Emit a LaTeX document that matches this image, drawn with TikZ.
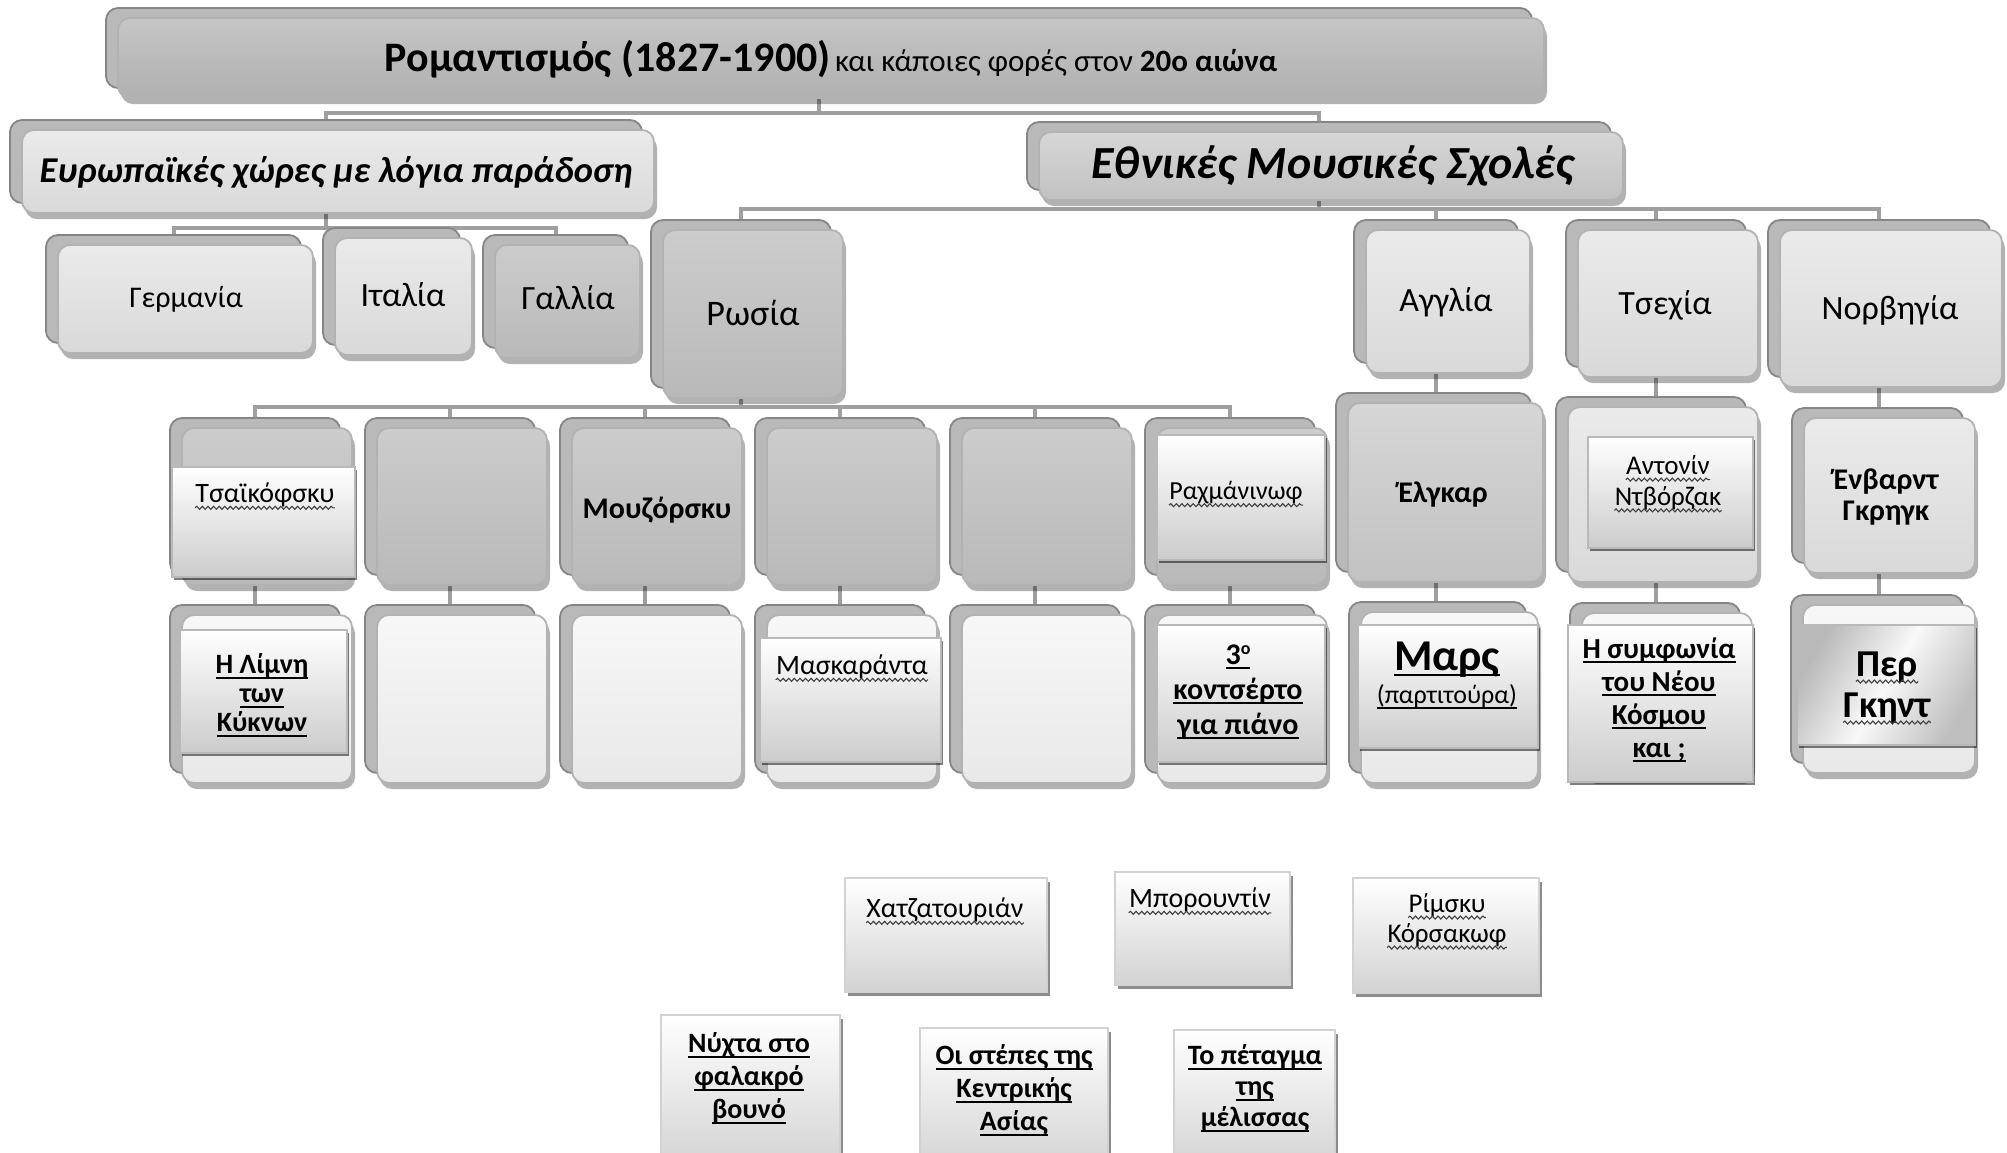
\documentclass[tikz,border=0pt]{standalone}
\usepackage{fontspec}
\setmainfont{Carlito}
\usetikzlibrary{shadows,decorations.pathmorphing}
\pgfdeclarelayer{bg}
\pgfsetlayers{bg,main}
\newcommand\ulx[1]{\setbox0\hbox{#1}\rlap{\rule[-2.6pt]{\wd0}{1pt}}\box0}
\newcommand\bx[6]{%
  \pgfmathsetmacro\bxw{(#5-#3)*0.5}%
  \pgfmathsetmacro\bxh{(#6-#4)*0.5}%
  \node[#1, minimum width=\bxw pt, minimum height=\bxh pt, inner sep=0pt] (#2) at ({(#3+#5)/2},{(#4+#6)/2}) {};%
  \coordinate (#2-c) at ([xshift=-6pt]#2.center);}
\newcommand\wnode[5]{%
  \node[txt, #1] (#2) at (#3,#4) {#5};%
  \draw[wvl] ([yshift=-2.6pt]#2.base west) -- ([yshift=-2.6pt]#2.base east);}
\tikzset{
  conn/.style={draw=gray!75, line width=2pt},
  wvl/.style={decorate, decoration={snake, amplitude=0.75pt, segment length=2.8pt}, draw=black!75, line width=0.55pt},
  box3d/.style={rectangle, rounded corners=#1, draw=gray!60, line width=0.9pt,
     drop shadow={shadow xshift=1.5pt, shadow yshift=-3pt, opacity=0.3, fill=black},
     copy shadow={shadow xshift=-6pt, shadow yshift=5pt, fill=gray!55, draw=gray!95, line width=0.9pt}},
  box3d/.default=6pt,
  tp/.style={box3d, top color=gray!45, bottom color=gray!62},
  dk/.style={box3d, top color=gray!40, bottom color=gray!55},
  md/.style={box3d, top color=gray!32, bottom color=gray!48},
  lt/.style={box3d, top color=gray!16, bottom color=gray!30},
  vl/.style={box3d, top color=gray!6, bottom color=gray!18},
  ins/.style={rectangle, draw=gray!55, line width=0.6pt, top color=white, bottom color=gray!40,
     drop shadow={shadow xshift=1pt, shadow yshift=-1.5pt, opacity=.5, fill=black}},
  insd/.style={rectangle, draw=gray!55, line width=0.6pt, left color=gray!55, right color=gray!50, middle color=gray!5, shading angle=60,
     drop shadow={shadow xshift=1pt, shadow yshift=-1.5pt, opacity=.5, fill=black}},
  flat/.style={rectangle, draw=gray!35, line width=0.6pt, top color=white, bottom color=gray!35,
     drop shadow={shadow xshift=1.5pt, shadow yshift=-2pt, opacity=.45, fill=black}},
  txt/.style={inner sep=0pt, align=center, text=black},
  fr/.style 2 args={font=\fontsize{#1}{#2}\selectfont},
  fb/.style 2 args={font=\fontsize{#1}{#2}\selectfont\bfseries},
}
\begin{document}
\begin{tikzpicture}[x=0.5pt, y=-0.5pt]
\useasboundingbox (0,0) rectangle (2007,1152);
\clip (0,0) rectangle (2007,1152);
\begin{pgfonlayer}{bg}
\fill[white] (0,0) rectangle (2007,1152);
\end{pgfonlayer}

% level 1 and 2
\bx{tp}{top}{118}{18}{1544}{98}
\bx{lt}{eu}{22}{130}{654}{213}
\bx{md}{eth}{1039}{132}{1623}{200}

% countries
\bx{lt}{ger}{58}{245}{313}{353}
\bx{lt}{ita}{335}{238}{472}{355}
\bx{dk}{gal}{495}{245}{640}{358}
\bx{dk}{rus}{663}{230}{843}{398}
\bx{lt}{agg}{1366}{230}{1530}{373}
\bx{lt}{tse}{1578}{230}{1758}{377}
\bx{lt}{nor}{1780}{230}{2002}{387}

% russian composers (row 3) and works (row 4)
\foreach \k in {0,...,5}{
  \pgfmathsetmacro\xa{182+195*\k}
  \pgfmathsetmacro\xb{\xa+170}
  \bx{dk}{ra\k}{\xa}{428}{\xb}{585}
  \bx{vl}{rb\k}{\xa}{615}{\xb}{783}
}
\bx{ins}{ra0in}{172}{467}{355}{577}
\bx{ins}{ra5in}{1157}{435}{1325}{560}
\bx{ins}{rb0in}{180}{630}{347}{753}
\bx{ins}{rb3in}{760}{638}{941}{762}
\bx{ins}{rb5in}{1157}{625}{1325}{762}

% other composers
\bx{md}{elg}{1348}{403}{1543}{582}
\bx{lt}{dvo}{1568}{407}{1758}{582}
\bx{lt}{gri}{1804}{418}{1975}{573}
\bx{ins}{dvoin}{1588}{437}{1753}{548}
\bx{vl}{mar}{1361}{612}{1538}{783}
\bx{vl}{sym}{1582}{613}{1752}{778}
\bx{vl}{peer}{1803}{605}{1975}{773}
\bx{ins}{marin}{1358}{625}{1538}{748}
\bx{ins}{symin}{1568}{625}{1753}{782}
\bx{insd}{peerin}{1797}{625}{1975}{745}

% floating boxes
\bx{flat}{xat}{845}{878}{1047}{992}
\bx{flat}{bor}{1115}{872}{1290}{985}
\bx{flat}{rim}{1353}{878}{1539}{993}
\bx{flat}{nyx}{661}{1015}{840}{1170}
\bx{flat}{ste}{920}{1028}{1108}{1170}
\bx{flat}{pet}{1174}{1030}{1335}{1170}

% texts
\node[txt] (t-top) at (831,59) {{\fontsize{21}{24}\selectfont\bfseries Ρομαντισμός (1827-1900)} {\fontsize{15.5}{18}\selectfont και κάποιες φορές στον \textbf{20ο αιώνα}}};
\node[txt, font=\fontsize{18.2}{21}\selectfont\bfseries\itshape] (t-eu) at (336,173) {Ευρωπαϊκές χώρες με λόγια παράδοση};
\node[txt, font=\fontsize{23}{26}\selectfont\bfseries\itshape] (t-eth) at (1333,166) {Εθνικές Μουσικές Σχολές};
\node[txt, fr={15}{18}] (t-ger) at (186,299) {Γερμανία};
\node[txt, fr={17}{20}] (t-ita) at (403,295) {Ιταλία};
\node[txt, fr={17}{20}] (t-gal) at (568,298) {Γαλλία};
\node[txt, fr={18}{21}] (t-rus) at (753,313) {Ρωσία};
\node[txt, fr={17}{20}] (t-agg) at (1446,302) {Αγγλία};
\node[txt, fr={17}{20}] (t-tse) at (1665,305) {Τσεχία};
\node[txt, fr={17}{20}] (t-nor) at (1890,310) {Νορβηγία};

\wnode{fr={14}{16}}{t-tsa}{265}{495}{Τσαϊκόφσκυ}
\node[txt, fb={15}{17}] (t-mou) at (657,510) {Μουζόρσκυ};
\wnode{fr={13}{15}}{t-rax}{1236}{493}{Ραχμάνινωφ}
\node[txt, fb={14}{14.5}] (t-lim) at (262,695) {\ulx{Η Λίμνη}\\\ulx{των}\\\ulx{Κύκνων}};
\wnode{fr={14}{16}}{t-mas}{852}{667}{Μασκαράντα}
\node[txt, fb={15}{17.5}] (t-kon) at (1238,692) {\ulx{3\raisebox{0.7ex}{\fontsize{9}{9}\selectfont ο}}\\\ulx{κοντσέρτο}\\\ulx{για πιάνο}};
\node[txt, fb={15}{17}] (t-elg) at (1443,495) {Έλγκαρ};
\wnode{fr={13.5}{16}}{t-dvo1}{1668}{465}{Αντονίν}
\wnode{fr={13.5}{16}}{t-dvo2}{1668}{498}{Ντβόρζακ}
\node[txt, fb={15}{15.5}] (t-gri) at (1886,497) {Ένβαρντ\\Γκρηγκ};
\node[txt, fb={22}{24}] (t-mar) at (1447,660) {\ulx{Μαρς}};
\node[txt, fr={13}{15}] (t-par) at (1447,697) {\ulx{(παρτιτούρα)}};
\node[txt, fb={14.5}{16.5}] (t-sym) at (1659,700) {\ulx{Η συμφωνία}\\\ulx{του Νέου}\\\ulx{Κόσμου}\\\ulx{και ;}};
\wnode{fb={19}{21}}{t-peer1}{1887}{667}{Περ}
\wnode{fb={19}{21}}{t-peer2}{1887}{708}{Γκηντ}

\wnode{fr={14}{16}}{t-xat}{945}{910}{Χατζατουριάν}
\wnode{fr={14}{16}}{t-bor}{1200}{900}{Μπορουντίν}
\wnode{fr={13.5}{15}}{t-rim1}{1447}{905}{Ρίμσκυ}
\wnode{fr={13.5}{15}}{t-rim2}{1447}{935}{Κόρσακωφ}
\node[txt, fb={14}{16.5}] (t-nyx) at (749,1078) {\ulx{Νύχτα στο}\\\ulx{φαλακρό}\\\ulx{βουνό}};
\node[txt, fb={14}{16.5}] (t-ste) at (1014,1090) {\ulx{Οι στέπες της}\\\ulx{Κεντρικής}\\\ulx{Ασίας}};
\node[txt, fb={14}{15.5}] (t-pet) at (1255,1088) {\ulx{Το πέταγμα}\\\ulx{της}\\\ulx{μέλισσας}};

% connectors
\begin{pgfonlayer}{bg}
\coordinate (busA) at (0,113);
\coordinate (busB) at (0,228);
\coordinate (busC) at (0,209);
\coordinate (busD) at (0,407);
\foreach \c in {eu,eth}{\draw[conn] (top-c) -- (top-c |- busA) -| (\c-c);}
\foreach \c in {ger,ita,gal}{\draw[conn] (eu-c) -- (eu-c |- busB) -| (\c-c);}
\foreach \c in {rus,agg,tse,nor}{\draw[conn] (eth-c) -- (eth-c |- busC) -| (\c-c);}
\foreach \k in {0,...,5}{
  \draw[conn] (rus-c) -- (rus-c |- busD) -| (ra\k-c);
  \draw[conn] (ra\k-c) -- (ra\k-c |- rb\k-c);
}
\draw[conn] (agg-c) -- (agg-c |- elg-c);
\draw[conn] (agg-c |- elg-c) -- (agg-c |- mar-c);
\draw[conn] (tse-c) -- (tse-c |- dvo-c);
\draw[conn] (tse-c |- dvo-c) -- (tse-c |- sym-c);
\draw[conn] (nor-c) -- (nor-c |- gri-c);
\draw[conn] (nor-c |- gri-c) -- (nor-c |- peer-c);
\end{pgfonlayer}
\end{tikzpicture}
\end{document}
